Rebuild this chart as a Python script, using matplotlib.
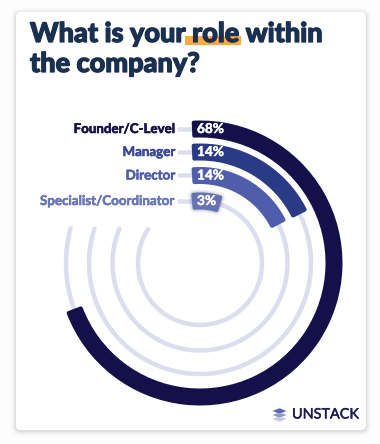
"""Radial bar chart: role within the company."""

import numpy as np
import matplotlib.pyplot as plt
import matplotlib.patheffects as pe
from matplotlib.patches import FancyBboxPatch, Polygon, Rectangle

W, H = 380, 444

roles = ['Founder/C-Level', 'Manager', 'Director', 'Specialist/Coordinator']
percents = [68, 14, 14, 3]
# drawn sweep of each bar (not proportional to percent)
sweep_deg = [250, 64, 64, 19]
track_end_deg = [285, 288, 293, 303]

ring_radius = [134, 111, 87.5, 62]
ring_width = 17
track_width = 4.5
center = (200, 263)

bar_colors = ['#16104a', '#2a3a85', '#4f5dab', '#6672b2']
label_colors = ['#16124a', '#3c4a94', '#4f5dab', '#6a76b8']
track_color = '#dcdeee'
navy = '#1a3050'

plt.rcParams['font.family'] = ['Lato', 'DejaVu Sans']


def px(n):
    ''' Pixels to points.'''
    return n * 72 / 100


def heavy(col, width):
    ''' Stroke that thickens a text.'''
    return [pe.withStroke(linewidth=width, foreground=col)]


fig = plt.figure(figsize=(W / 100, H / 100), dpi=100, facecolor='#fdfdfd')

# Pixel canvas for the card, title and labels
bg = fig.add_axes([0, 0, 1, 1])
bg.set_xlim(0, W)
bg.set_ylim(H, 0)
bg.axis('off')

for grow, alpha in zip([5, 4, 3, 2, 1], [.012, .016, .02, .03, .04]):
    bg.add_patch(FancyBboxPatch((16 - grow, 12 - grow + 1), 350 + 2 * grow, 418 + 2 * grow,
                                boxstyle='round,pad=0,rounding_size=%d' % (5 + grow),
                                fc='black', ec='none', alpha=alpha))
bg.add_patch(FancyBboxPatch((16, 12), 350, 418, boxstyle='round,pad=0,rounding_size=5',
                            fc='white', ec='none'))

bg.add_patch(Rectangle((185, 36), 56, 9, fc='#f9a94b', ec='none'))
bg.text(30, 42, 'What is your role within', fontsize=19.5, fontweight='black', color=navy,
        va='baseline', ha='left', path_effects=heavy(navy, .9))
bg.text(30, 72, 'the company?', fontsize=19.5, fontweight='black', color=navy,
        va='baseline', ha='left', path_effects=heavy(navy, .9))

for role, r, col in zip(roles, ring_radius, label_colors):
    y = center[1] - r
    bg.plot([179, 195], [y, y], color=track_color, lw=px(track_width), solid_capstyle='round')
    bg.text(176, y, role, ha='right', va='center', fontsize=9.6, fontweight='bold', color=col,
            path_effects=heavy(col, .4))

# Logo
for dy, col in zip([8, 4, 0], ['#c3c8e4', '#8d96cb', '#5864ad']):
    bg.add_patch(Polygon([(272, 411 + dy), (279.5, 408 + dy), (287, 411 + dy), (279.5, 414 + dy)],
                         fc=col, ec='white', lw=.3))
bg.text(292, 414.5, 'UNSTACK', ha='left', va='center', fontsize=10.4, color='#1d1a52',
        fontweight='normal', path_effects=heavy('#1d1a52', .3))

# Polar axes sized so one radial unit is one pixel
R = 150
ax = fig.add_axes([(center[0] - R) / W, (H - center[1] - R) / H, 2 * R / W, 2 * R / H],
                  projection='polar')
ax.set_theta_zero_location('N')
ax.set_theta_direction(-1)
ax.set_rlim(0, R)
ax.axis('off')
ax.patch.set_alpha(0)

round_px = 2
for i, r in enumerate(ring_radius):
    # Track
    t = np.radians(np.linspace(0, track_end_deg[i], 200))
    ax.plot(t, np.full_like(t, r), color=track_color, lw=px(track_width),
            solid_capstyle='round', zorder=1)

    # Value bar, starting a few pixels left of the top
    start = -np.degrees(8 / r)
    pad = np.degrees(round_px / r)
    t0 = np.radians(start + pad)
    t1 = np.radians(sweep_deg[i] - pad)
    h = ring_width - 2 * round_px
    if i == 3:
        # soft glow round the smallest bar
        for grow, alpha in zip([5, 4, 3, 2], [.05, .07, .09, .12]):
            ax.bar((t0 + t1) / 2, h, width=t1 - t0, bottom=r - h / 2,
                   color='#2a2f60', edgecolor='#2a2f60', alpha=alpha,
                   linewidth=px(2 * grow), joinstyle='round', zorder=2)
    ax.bar((t0 + t1) / 2, h, width=t1 - t0, bottom=r - h / 2, color=bar_colors[i],
           edgecolor=bar_colors[i], linewidth=px(2 * round_px), joinstyle='round', zorder=3)

for p, r in zip(percents, ring_radius):
    bg_y = center[1] - r
    ax.annotate('%d%%' % p, xy=(197 / W, 1 - bg_y / H), xycoords='figure fraction', color='white',
                fontsize=9.8, fontweight='bold', ha='left', va='center', zorder=5,
                path_effects=heavy('white', .3))

fig.savefig('out.png', dpi=100, facecolor=fig.get_facecolor())
